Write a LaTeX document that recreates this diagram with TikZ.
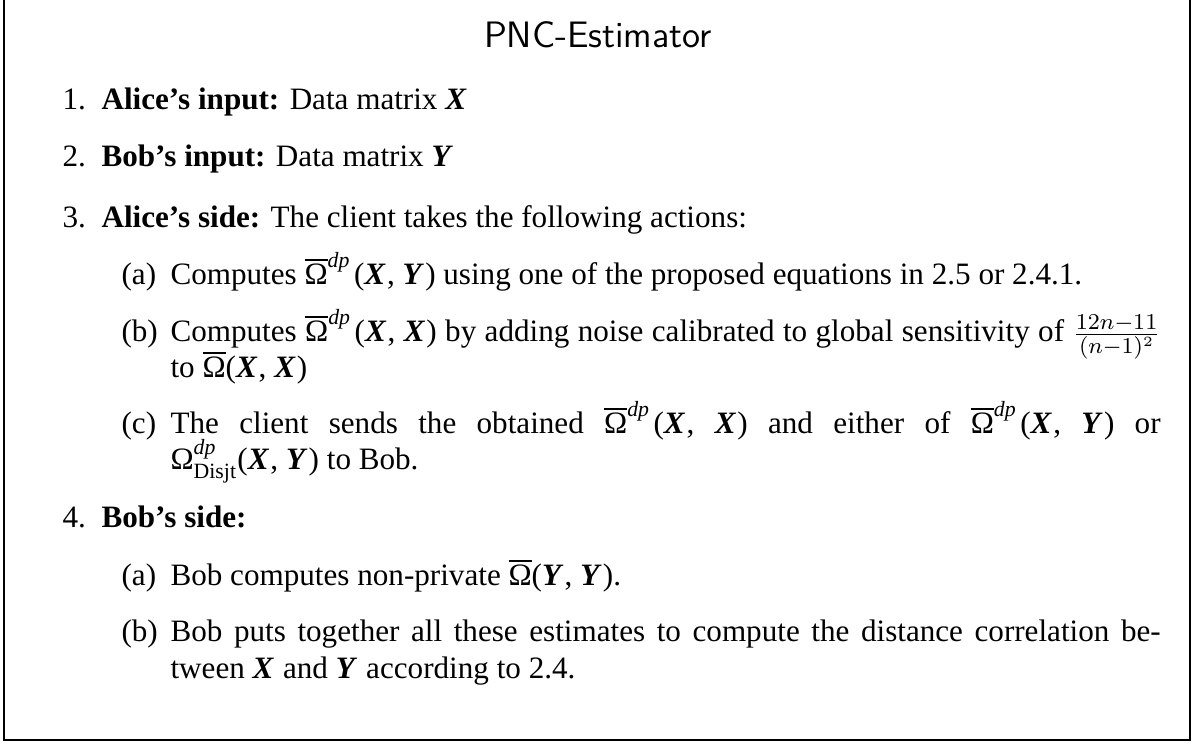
\documentclass[tikz,border=0pt]{standalone}
\usepackage{amsmath}
\usepackage{fontspec}
\setmainfont{Liberation Serif}

% notation used in the protocol steps
\newcommand\vX{\textbf{\textit{X}}\kern0.04em}
\newcommand\vY{\textbf{\textit{Y}}\kern0.04em}
\newcommand\Obar{\ensuremath{\overline{\text{Ω}}}}
\newcommand\Odp{\ensuremath{\overline{\text{Ω}}^{\textit{dp}}}\kern0.1em}
\newcommand\Odj{\ensuremath{\text{Ω}^{\textit{dp}}_{\text{Disjt}}}}

\begin{document}
\begin{tikzpicture}[x=0.3534pt, y=-0.3534pt,
  txt/.style={inner sep=0pt, anchor=base west, font=\fontsize{11}{13}\selectfont},
  lbl/.style={txt},
  frame/.style={line width=0.6pt, draw=black},
  titlefont/.style={inner sep=0pt, anchor=base, font=\sffamily\fontsize{13}{15}\selectfont}]
\useasboundingbox (0,0) rectangle (1196,744);

% open-topped frame
\draw[frame] (4,0) -- (4,740) -- (1190,740) -- (1190,0);

\node[titlefont] (title) at (598,48) {PNC-Estimator};

\node[lbl] (n1) at (62,110) {1.};
\node[txt] (t1) at (101,110) {\textbf{Alice’s input:} Data matrix \vX};

\node[lbl] (n2) at (62,167) {2.};
\node[txt] (t2) at (101,167) {\textbf{Bob’s input:} Data matrix \vY};

\node[lbl] (n3) at (62,228) {3.};
\node[txt] (t3) at (101,228) {\textbf{Alice’s side:} The client takes the following actions:};

\node[lbl] (a3) at (121,285) {(a)};
\node[txt] (ta3) at (170,285) {Computes \Odp(\vX, \vY) using one of the proposed equations in 2.5 or 2.4.1.};

\node[lbl] (b3) at (121,342) {(b)};
\node[txt] (tb3) at (170,342) {\makebox[349.9pt][s]{Computes \Odp(\vX, \vX) by adding noise calibrated to global sensitivity of $\frac{12n-11}{(n-1)^2}$}};
\node[txt] (tb3x) at (170,378) {to \Obar(\vX, \vX)};

\node[lbl] (c3) at (121,434) {(c)};
\node[txt] (tc3) at (170,434) {\makebox[349.9pt][s]{The client sends the obtained \Odp(\vX, \vX) and either of \Odp(\vX, \vY) or}};
\node[txt] (tc3x) at (170,470) {\Odj(\vX, \vY) to Bob.};

\node[lbl] (n4) at (62,528) {4.};
\node[txt] (t4) at (101,528) {\textbf{Bob’s side:}};

\node[lbl] (a4) at (121,586) {(a)};
\node[txt] (ta4) at (170,586) {Bob computes non-private \Obar(\vY, \vY).};

\node[lbl] (b4) at (121,642) {(b)};
\node[txt] (tb4) at (170,642) {\makebox[349.9pt][s]{Bob puts together all these estimates to compute the distance correlation be-}};
\node[txt] (tb4x) at (170,678) {tween \vX{} and \vY{} according to 2.4.};
\end{tikzpicture}
\end{document}
